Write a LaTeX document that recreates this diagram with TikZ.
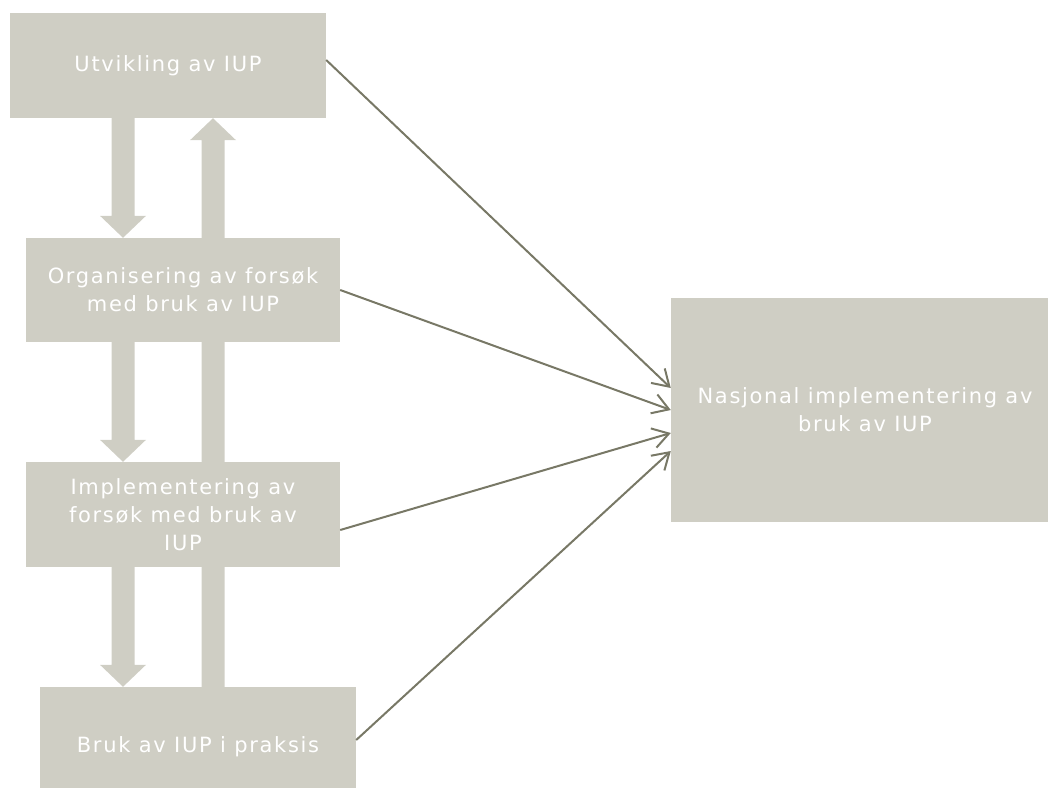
\documentclass[tikz,border=0pt]{standalone}
\usepackage{fontspec}
\setmainfont{DejaVu Sans}
\newfontfamily\boxfont[LetterSpace=8]{DejaVu Sans}
\usetikzlibrary{calc,arrows.meta}

\definecolor{boxgray}{RGB}{207,206,196}
\definecolor{linegray}{RGB}{120,120,102}

\pgfdeclarelayer{background}
\pgfsetlayers{background,main}

% bred blokkpil: x-koordinat, start, slutt, retning (1 ned, -1 opp)
\newcommand\bigarrow[4]{%
  \coordinate (ba-s) at (#1 |- #2);
  \coordinate (ba-e) at (#1 |- #3);
  \fill[boxgray] ($(ba-s)+(-\shaft,0)$)
    -- ($(ba-e)+(-\shaft,{-(#4)*\headlen})$)
    -- ($(ba-e)+(-\headw,{-(#4)*\headlen})$)
    -- (ba-e)
    -- ($(ba-e)+(\headw,{-(#4)*\headlen})$)
    -- ($(ba-e)+(\shaft,{-(#4)*\headlen})$)
    -- ($(ba-s)+(\shaft,0)$) -- cycle;
}

\begin{document}
\begin{tikzpicture}[x=1pt, y=-1pt,
  box/.style={fill=boxgray, text=white, align=center, inner sep=0pt,
    font=\boxfont\fontsize{21}{28}\selectfont},
  link/.style={draw=linegray, line width=2pt,
    -{Straight Barb[length=16pt,width=20pt]}}]

% parametre
\def\shaft{11.5}   % halv bredde av pilskaft
\def\headw{23}     % halv bredde av pilhode
\def\headlen{22}   % lengde av pilhode

\useasboundingbox (0,0) rectangle (1048,787);

%========================
% bokser
%========================
\node[box, minimum width=316pt, minimum height=105pt] (utv) at (168,65.5)
    {Utvikling av IUP};
\node[box, minimum width=314pt, minimum height=104pt] (org) at (183,290)
    {Organisering av forsøk\\med bruk av IUP};
\node[box, minimum width=314pt, minimum height=105pt] (impl) at (183,514.5)
    {Implementering av\\forsøk med bruk av\\IUP};
\node[box, minimum width=316pt, minimum height=120pt] (bruk) at (198,747)
    {Bruk av IUP i praksis};
\node[box, minimum width=388pt, minimum height=224pt] (nasj) at (865,410)
    {Nasjonal implementering av\\bruk av IUP};

%========================
% blokkpiler
%========================
\coordinate (dnx) at (123,0);
\coordinate (upx) at (213,0);
\begin{pgfonlayer}{background}
  \bigarrow{dnx}{utv.south}{org.north}{1}
  \bigarrow{dnx}{org.south}{impl.north}{1}
  \bigarrow{dnx}{impl.south}{bruk.north}{1}
  \bigarrow{upx}{bruk.north}{utv.south}{-1}
\end{pgfonlayer}

%========================
% piler til nasjonal implementering
%========================
\draw[link] ([yshift=5.5pt]utv.east) -- ([yshift=22pt]nasj.west);
\draw[link] (org.east) -- (nasj.west);
\draw[link] ([yshift=-15.5pt]impl.east) -- ([yshift=-23pt]nasj.west);
\draw[link] ([yshift=7pt]bruk.east) -- ([yshift=-41pt]nasj.west);

\end{tikzpicture}
\end{document}
